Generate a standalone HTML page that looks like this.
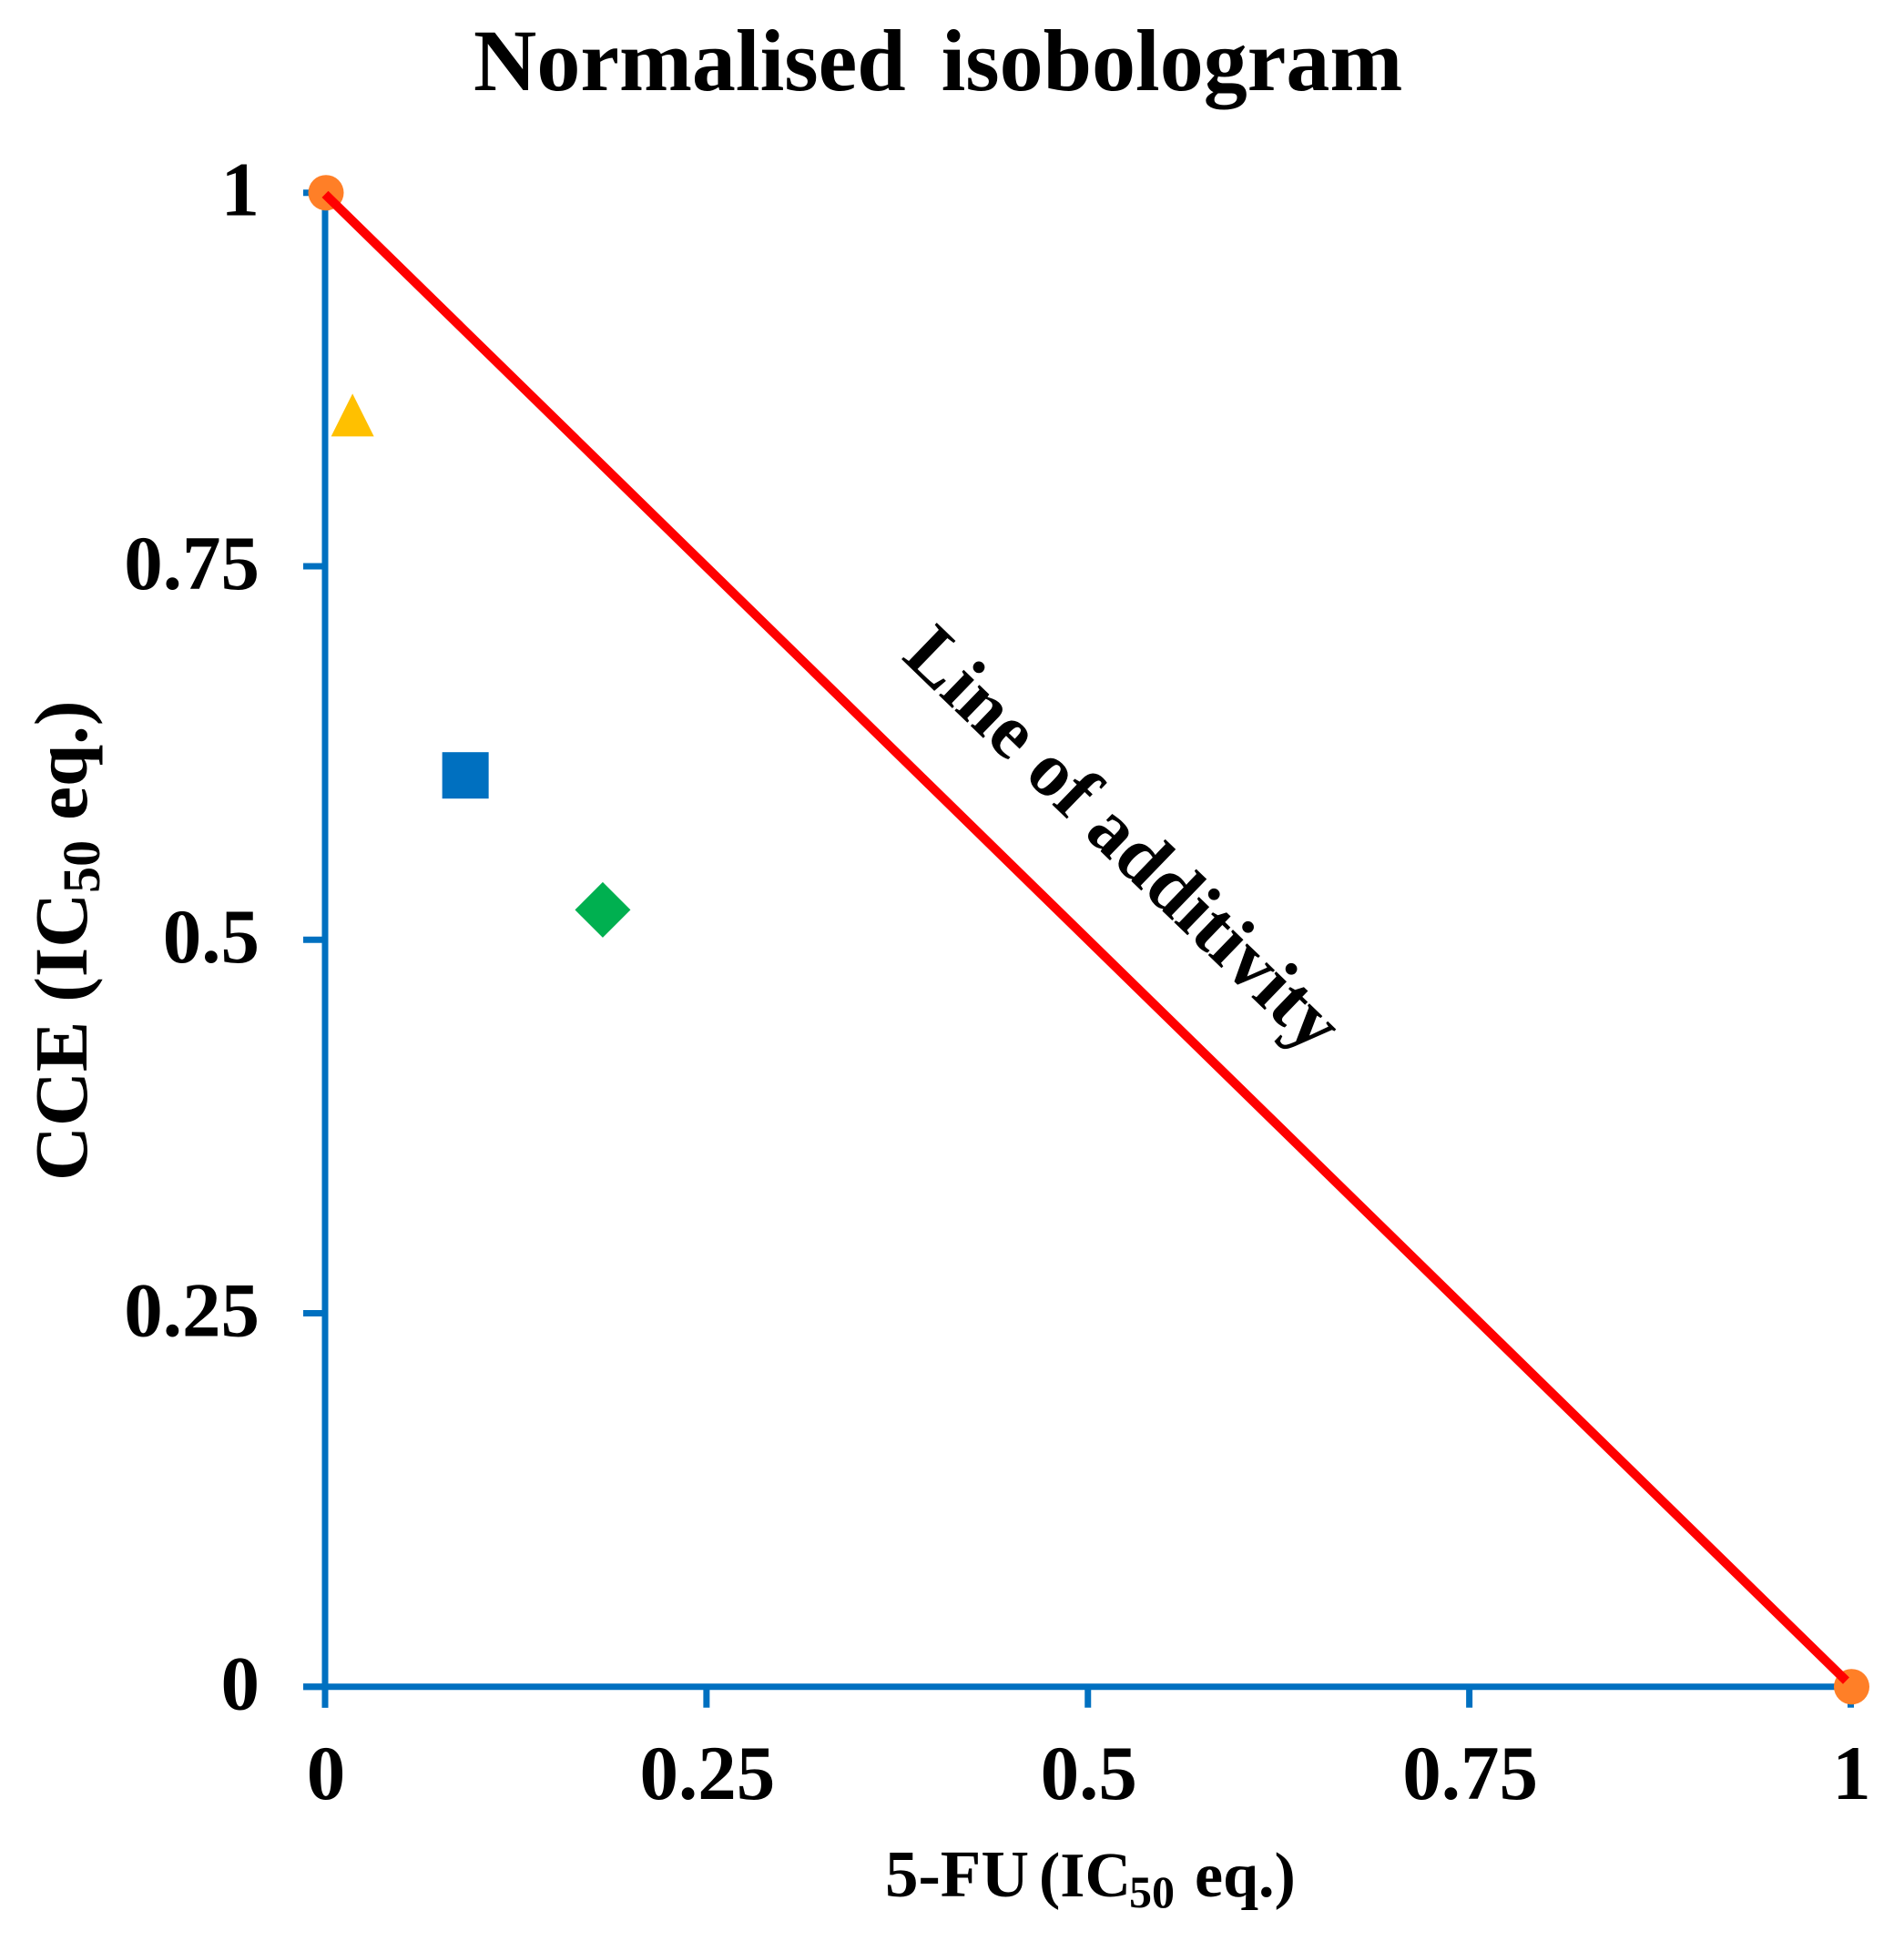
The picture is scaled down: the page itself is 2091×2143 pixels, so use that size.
<!DOCTYPE html>
<html lang="en">
<head>
<meta charset="utf-8">
<title>Normalised isobologram</title>
<style>
html,body{margin:0;padding:0;background:#fff;}
svg{display:block;}
text{font-family:"Liberation Serif","Times New Roman",serif;font-weight:bold;fill:#000;}
</style>
</head>
<body>
<svg id="chart" width="2091" height="2143" viewBox="0 0 2091 2143" xmlns="http://www.w3.org/2000/svg">
  <rect x="0" y="0" width="2091" height="2143" fill="#ffffff"/>
  <text x="520" y="99" font-size="96" word-spacing="15">Normalised isobologram</text>
  <text transform="translate(95 1297) rotate(-90)" font-size="83">CCE<tspan dx="21">(IC</tspan><tspan font-size="58" dy="14">50</tspan><tspan dy="-14" dx="22">eq.)</tspan></text>
  <text y="2083" font-size="70"><tspan x="972" font-size="73">5-FU</tspan><tspan x="1141">(IC</tspan><tspan x="1240" font-size="50" dy="12">50</tspan><tspan x="1312" dy="-12">eq.)</tspan></text>
  <text transform="translate(989 723) rotate(44)" font-size="85">Line of additivity</text>
  <g id="axes"></g>
  <g id="marks"></g>
</svg>
<script>
const xTicks = [0, 0.25, 0.5, 0.75, 1];
const yTicks = [0, 0.25, 0.5, 0.75, 1];
const xTickLabels = ["0", "0.25", "0.5", "0.75", "1"];
const yTickLabels = ["0", "0.25", "0.5", "0.75", "1"];
const additivityX = [0, 0.997];
const additivityY = [0.999, 0.004];
const endpointX = [0, 1];
const endpointY = [1, 0];
const comboX = [0.018, 0.092, 0.182];
const comboY = [0.85, 0.61, 0.52];
const comboNames = ["triangle", "square", "diamond"];

const NS = "http://www.w3.org/2000/svg";
const BLUE = "#0070C0";
function xScale(v) { return 357 + v * 1675.5; }
function yScale(v) { return 1852.7 - v * 1641; }

const axes = document.getElementById("axes");
const marks = document.getElementById("marks");

function make(parent, tag, attrs) {
  const el = document.createElementNS(NS, tag);
  for (const k in attrs) el.setAttribute(k, attrs[k]);
  parent.appendChild(el);
  return el;
}

const yAxisLine = make(axes, "line", { x1: xScale(0), x2: xScale(0), y1: yScale(1), y2: yScale(0) + 23, stroke: BLUE, "stroke-width": 7 });


const xAxisLine = make(axes, "line", { x1: xScale(0) - 24, x2: xScale(1), y1: yScale(0), y2: yScale(0), stroke: BLUE, "stroke-width": 7 });



yTicks.forEach(function (v, i) {
  const t = make(axes, "line", { x1: xScale(0) - 24, x2: xScale(0), y1: yScale(v), y2: yScale(v), stroke: BLUE, "stroke-width": 7 });
  
  
  const l = make(axes, "text", { x: 285, y: yScale(v) + 25, "text-anchor": "end", "font-size": 85 });
  
  
  l.textContent = yTickLabels[i];
});

xTicks.forEach(function (v, i) {
  const t = make(axes, "line", { x1: xScale(v), x2: xScale(v), y1: yScale(0), y2: yScale(0) + 23, stroke: BLUE, "stroke-width": 7 });
  
  
  const l = make(axes, "text", { x: xScale(v) + 1, y: 1976, "text-anchor": "middle", "font-size": 85 });
  
  
  l.textContent = xTickLabels[i];
});

endpointX.forEach(function (v, i) {
  const c = make(marks, "circle", { cx: xScale(v) + 1, cy: yScale(endpointY[i]), r: 19.5, fill: "#FF7F27" });
  
  
});

const additivity = make(marks, "line", {
  x1: xScale(additivityX[0]), y1: yScale(additivityY[0]),
  x2: xScale(additivityX[1]), y2: yScale(additivityY[1]),
  stroke: "#FF0000", "stroke-width": 10
});



function drawMarker(name, cx, cy) {
  if (name === "triangle") {
    return make(marks, "polygon", { points: [cx, cy - 25.5, cx + 23.5, cy + 21.5, cx - 23.5, cy + 21.5].join(" "), fill: "#FFC000" });
  }
  if (name === "square") {
    return make(marks, "rect", { x: cx - 25.5, y: cy - 25.5, width: 51, height: 51, fill: BLUE });
  }
  return make(marks, "polygon", { points: [cx, cy - 30.5, cx + 30.5, cy, cx, cy + 30.5, cx - 30.5, cy].join(" "), fill: "#00B050" });
}

comboX.forEach(function (v, i) {
  const m = drawMarker(comboNames[i], xScale(v), yScale(comboY[i]));
  
  
});
</script>
</body>
</html>
